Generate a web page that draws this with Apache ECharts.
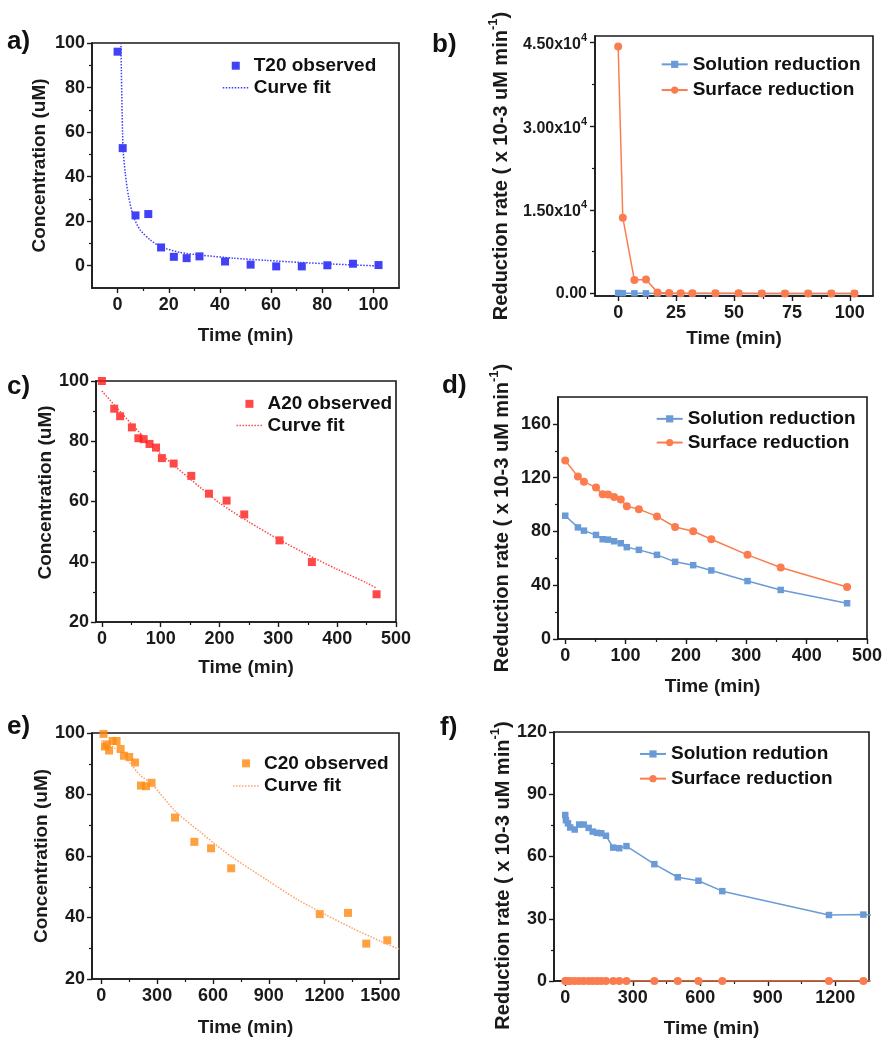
<!DOCTYPE html>
<html>
<head>
<meta charset="utf-8">
<script src="https://cdn.jsdelivr.net/npm/echarts@6/dist/echarts.min.js"></script>
<style>
  html, body { margin: 0; padding: 0; background: #fff; }
  #chart { width: 896px; height: 1050px; }
</style>
</head>
<body>
<div id="chart"></div>
<script>
// ---- a) / b)  T20 ----
const timeT20 = [0, 2, 7, 12, 17, 22, 27, 32, 42, 52, 62, 72, 82, 92, 102];
const concT20 = [96.1, 52.8, 22.6, 23.2, 8.2, 4.0, 3.4, 4.2, 1.9, 0.5, -0.3, -0.3, 0.2, 0.9, 0.3];
const fitT20Time = [1.3, 2.1, 3, 4.3, 6.2, 8.8, 12.7, 17.1, 24.4, 32.2, 45.2, 58.2, 71.2, 84.1, 101.7];
const fitT20Conc = [100, 53.5, 41.6, 31, 22.1, 16.1, 11.7, 8.4, 6, 4.8, 3.4, 2.4, 1.5, 0.75, -0.1];
const solT20 = [90, 50, 25, 25, 8, 4, 3, 4, 2, 1, 0, 0, 0, 1, 0];
const surfT20 = [44300, 13600, 2400, 2500, 200, 80, 60, 60, 40, 30, 20, 20, 20, 20, 10];

// ---- c) / d)  A20 ----
const timeA20 = [0, 21, 31, 51, 62, 71, 81, 92, 102, 122, 152, 182, 212, 242, 302, 357, 467];
const concA20 = [100, 90.8, 88.3, 84.6, 81, 80.7, 79.1, 77.9, 74.4, 72.6, 68.5, 62.6, 60.3, 55.7, 47.1, 39.9, 29.2];
const fitA20Time = [0, 50, 100, 150, 200, 250, 300, 350, 400, 450, 467];
const fitA20Conc = [96.7, 85.8, 75.8, 67.5, 59.5, 53.2, 47.5, 42.3, 37.5, 33, 31.2];
const solA20 = [91.7, 83, 80.6, 77.4, 74.2, 73.9, 72.7, 71.2, 68.3, 66.3, 62.6, 57.4, 54.9, 51, 43.1, 36.5, 26.6];
const surfA20 = [132.8, 120.8, 117, 112.6, 107.7, 107.5, 105.7, 103.7, 98.8, 96.6, 91.2, 83.3, 80.1, 74.2, 62.6, 53.2, 38.7];

// ---- e) / f)  C20 ----
const timeC20 = [12, 20, 30, 42, 61, 82, 104, 122, 150, 181, 213, 240, 270, 396, 500, 590, 698, 1174, 1326, 1424, 1537];
const concC20 = [99.7, 95.6, 96.3, 94.3, 97.4, 97.4, 94.8, 92.6, 92.2, 90.4, 82.9, 82.7, 83.8, 72.5, 64.6, 62.5, 56, 41.1, 41.5, 31.5, 32.6];
const fitC20Time = [0, 64, 150, 208, 270, 400, 530, 600, 700, 900, 1050, 1200, 1350, 1500, 1600];
const fitC20Conc = [97.5, 95.5, 90.5, 86.3, 83.5, 74.4, 67.9, 64.4, 59.8, 51.8, 46, 41.1, 36.5, 32.3, 29.7];
const timeC20Rate = [0, 3, 12, 22, 42, 62, 82, 104, 122, 141, 160, 181, 213, 240, 272, 396, 500, 592, 698, 1172, 1325, 1424];
const solC20 = [80, 77.5, 76, 74, 73, 75.4, 75.4, 73.8, 72, 71.4, 71.2, 70, 64.3, 64, 65, 56.3, 50, 48.3, 43.3, 31.8, 32, 31.5];
const surfC20 = [0, 0, 0, 0, 0, 0, 0, 0, 0, 0, 0, 0, 0, 0, 0, 0, 0, 0, 0, 0, 0, 0];

// tick values
const ticksT = [0, 20, 40, 60, 80, 100];
const minorT = [10, 30, 50, 70, 90];
const ticksTb = [0, 25, 50, 75, 100];
const minorTb = [12.5, 37.5, 62.5, 87.5];
const ticksRateT20 = [0, 15000, 30000, 45000];
const minorRateT20 = [7500, 22500, 37500];
const ticksConc = [20, 40, 60, 80, 100];
const minorConc = [30, 50, 70, 90];
const ticksTimeA = [0, 100, 200, 300, 400, 500];
const minorTimeA = [50, 150, 250, 350, 450];
const ticksRateA = [0, 40, 80, 120, 160];
const minorRateA = [20, 60, 100, 140];
const ticksTimeC = [0, 300, 600, 900, 1200, 1500];
const minorTimeC = [150, 450, 750, 1050, 1350];
const ticksTimeCf = [0, 300, 600, 900, 1200];
const minorTimeCf = [150, 450, 750, 1050];
const ticksRateC = [0, 30, 60, 90, 120];
const minorRateC = [15, 45, 75, 105];

const FONT = '"Liberation Sans", Arial, sans-serif';
const INK = '#1a1a1a';
const BLUE = '#6b9bd6';
const ORANGE = '#fb7d4f';

const pairs = (xs, ys) => xs.map((x, i) => [x, ys[i]]);

const chart = echarts.init(document.getElementById('chart'));

const grids = [
    { left: 92, top: 43, width: 307, height: 245 },   // a
    { left: 595, top: 36, width: 278, height: 260 },  // b
    { left: 96, top: 381, width: 300, height: 241 },  // c
    { left: 558, top: 397, width: 309, height: 242 }, // d
    { left: 92, top: 733, width: 307, height: 246 },  // e
    { left: 554, top: 732, width: 315, height: 249 }  // f
].map(g => Object.assign({ show: true, borderColor: INK, borderWidth: 1.6, outerBoundsMode: 'none', containLabel: false }, g));

const labelStyle = { color: INK, fontSize: 18, fontWeight: 'bold', fontFamily: FONT, formatter: v => String(v) };
const nameStyle = { color: INK, fontSize: 19, fontWeight: 'bold', fontFamily: FONT };

function mainAxis(gridIndex, position, min, max, ticks, name, nameGap, labelOpts, nameOpts) {
    return {
        type: 'value', gridIndex, position, min, max,
        axisLine: { show: true, onZero: false, lineStyle: { color: INK, width: 1.6 } },
        axisTick: { show: true, customValues: ticks, length: 5, lineStyle: { color: INK, width: 1.4 } },
        axisLabel: Object.assign({ customValues: ticks, margin: position === 'left' ? 7 : 8 }, labelStyle, labelOpts || {}),
        splitLine: { show: false },
        name, nameGap, nameLocation: 'middle',
        nameTextStyle: Object.assign({}, nameStyle, nameOpts || {})
    };
}

function minorAxis(gridIndex, position, min, max, ticks) {
    return {
        type: 'value', gridIndex, position, min, max,
        axisLine: { show: false, onZero: false },
        axisTick: { show: true, customValues: ticks, length: 3, lineStyle: { color: INK, width: 1.2 } },
        axisLabel: { show: false },
        splitLine: { show: false }
    };
}

// y title for rate panels, with superscript -1
const rateTitle = '{t|Reduction rate ( x 10-3 uM min}{s|-1}{t|)}';
const rateRich = {
    t: { fontSize: 20, fontWeight: 'bold', fontFamily: FONT, color: INK, lineHeight: 24, verticalAlign: 'bottom' },
    s: { fontSize: 13, fontWeight: 'bold', fontFamily: FONT, color: INK, verticalAlign: 'top' }
};

const xAxes = [
    mainAxis(0, 'bottom', -10, 110, ticksT, 'Time (min)', 38), minorAxis(0, 'bottom', -10, 110, minorT),
    mainAxis(1, 'bottom', -10, 110, ticksTb, 'Time (min)', 33), minorAxis(1, 'bottom', -10, 110, minorTb),
    mainAxis(2, 'bottom', -10, 500, ticksTimeA, 'Time (min)', 36), minorAxis(2, 'bottom', -10, 500, minorTimeA),
    mainAxis(3, 'bottom', -12, 500, ticksTimeA, 'Time (min)', 38), minorAxis(3, 'bottom', -12, 500, minorTimeA),
    mainAxis(4, 'bottom', -50, 1600, ticksTimeC, 'Time (min)', 39), minorAxis(4, 'bottom', -50, 1600, minorTimeC),
    mainAxis(5, 'bottom', -50, 1350, ticksTimeCf, 'Time (min)', 38), minorAxis(5, 'bottom', -50, 1350, minorTimeCf)
];

const yAxes = [
    mainAxis(0, 'left', -10, 100, ticksT, 'Concentration (uM)', 43), minorAxis(0, 'left', -10, 100, minorT),
    mainAxis(1, 'left', -450, 46200, ticksRateT20, rateTitle, 84, {
        fontSize: 16, margin: 8,
        formatter: v => v === 0 ? '0.00' : '{m|' + (v / 10000).toFixed(2) + 'x10}{e|4}',
        rich: {
            m: { fontSize: 16, fontWeight: 'bold', fontFamily: FONT, color: INK, lineHeight: 20, verticalAlign: 'bottom' },
            e: { fontSize: 11, fontWeight: 'bold', fontFamily: FONT, color: INK, verticalAlign: 'top' }
        }
    }, { rich: rateRich }),
    minorAxis(1, 'left', -450, 46200, minorRateT20),
    mainAxis(2, 'left', 20, 100, ticksConc, 'Concentration (uM)', 33, null, { padding: [0, 0, 0, 18] }),
    minorAxis(2, 'left', 20, 100, minorConc),
    mainAxis(3, 'left', 0, 180, ticksRateA, rateTitle, 46, null, { rich: rateRich }),
    minorAxis(3, 'left', 0, 180, minorRateA),
    mainAxis(4, 'left', 20, 100, ticksConc, 'Concentration (uM)', 41), minorAxis(4, 'left', 20, 100, minorConc),
    mainAxis(5, 'left', 0, 120, ticksRateC, rateTitle, 41, null, { rich: rateRich, padding: [0, 38, 0, 0] }),
    minorAxis(5, 'left', 0, 120, minorRateC)
];

function observed(name, panel, xs, ys, color) {
    return {
        name, type: 'scatter', xAxisIndex: panel * 2, yAxisIndex: panel * 2,
        data: pairs(xs, ys), symbol: 'rect', symbolSize: 8,
        itemStyle: { color }
    };
}

function fitLine(panel, xs, ys, color) {
    return {
        name: 'Curve fit', type: 'line', xAxisIndex: panel * 2, yAxisIndex: panel * 2,
        data: pairs(xs, ys), symbol: 'none', smooth: 0.25,
        lineStyle: { color, width: 1.5, type: 'dotted' }
    };
}

function rateLine(name, panel, xs, ys, kind) {
    const isSol = kind === 'sol';
    const color = isSol ? BLUE : ORANGE;
    return {
        name, type: 'line', xAxisIndex: panel * 2, yAxisIndex: panel * 2,
        data: pairs(xs, ys),
        symbol: isSol ? 'rect' : 'circle', symbolSize: isSol ? 6.5 : 8,
        itemStyle: { color },
        lineStyle: { color, width: 1.5 }
    };
}

const series = [
    observed('T20 observed', 0, timeT20, concT20, '#1212f2'),
    fitLine(0, fitT20Time, fitT20Conc, '#3d3dff'),
    rateLine('Solution reduction', 1, timeT20, solT20, 'sol'),
    rateLine('Surface reduction', 1, timeT20, surfT20, 'surf'),
    observed('A20 observed', 2, timeA20, concA20, '#ff1c1c'),
    fitLine(2, fitA20Time, fitA20Conc, '#ff4a4a'),
    rateLine('Solution reduction', 3, timeA20, solA20, 'sol'),
    rateLine('Surface reduction', 3, timeA20, surfA20, 'surf'),
    observed('C20 observed', 4, timeC20, concC20, '#ff8a0f'),
    fitLine(4, fitC20Time, fitC20Conc, '#ffa366'),
    rateLine('Solution redution', 5, timeC20Rate, solC20, 'sol'),
    rateLine('Surface reduction', 5, timeC20Rate, surfC20, 'surf')
];

const squareIcon = 'path://M0 0H10V10H0Z';
const noMarker = { color: 'rgba(0,0,0,0)', borderWidth: 0, opacity: 0 };

function legendBox(left, top, rowH, itemH, data) {
    return {
        orient: 'vertical', left, top, padding: 0, itemGap: 0,
        itemWidth: 26, itemHeight: itemH, selectedMode: false,
        textStyle: { fontSize: 19, fontWeight: 'bold', fontFamily: FONT, color: '#111', lineHeight: rowH },
        data
    };
}

const legends = [
    legendBox(222, 54.7, 22, 8, [
        { name: 'T20 observed', icon: squareIcon },
        { name: 'Curve fit', itemStyle: noMarker, lineStyle: { color: '#3d3dff', type: 'dotted', width: 1.5 } }
    ]),
    legendBox(660.7, 51.5, 25.7, 9, ['Solution reduction', 'Surface reduction']),
    legendBox(235.7, 393, 21.7, 8, [
        { name: 'A20 observed', icon: squareIcon },
        { name: 'Curve fit', itemStyle: noMarker, lineStyle: { color: '#ff4a4a', type: 'dotted', width: 1.5 } }
    ]),
    legendBox(655.7, 407, 23.7, 9, ['Solution reduction', 'Surface reduction']),
    legendBox(232.3, 752, 22.7, 8, [
        { name: 'C20 observed', icon: squareIcon },
        { name: 'Curve fit', itemStyle: noMarker, lineStyle: { color: '#ffa366', type: 'dotted', width: 1.5 } }
    ]),
    legendBox(639, 741.6, 24.7, 9, ['Solution redution', 'Surface reduction'])
];

const panelLetters = [
    ['a)', 7, 29], ['b)', 432, 32], ['c)', 7, 374],
    ['d)', 442, 373], ['e)', 7, 714], ['f)', 440, 715]
].map(([text, left, top]) => ({
    text, left, top, padding: 0,
    textStyle: { fontSize: 26, fontWeight: 'bold', fontFamily: FONT, color: '#111' }
}));

chart.setOption({
    animation: false,
    backgroundColor: '#fff',
    title: panelLetters,
    grid: grids,
    xAxis: xAxes,
    yAxis: yAxes,
    legend: legends,
    series
});
</script>
</body>
</html>
